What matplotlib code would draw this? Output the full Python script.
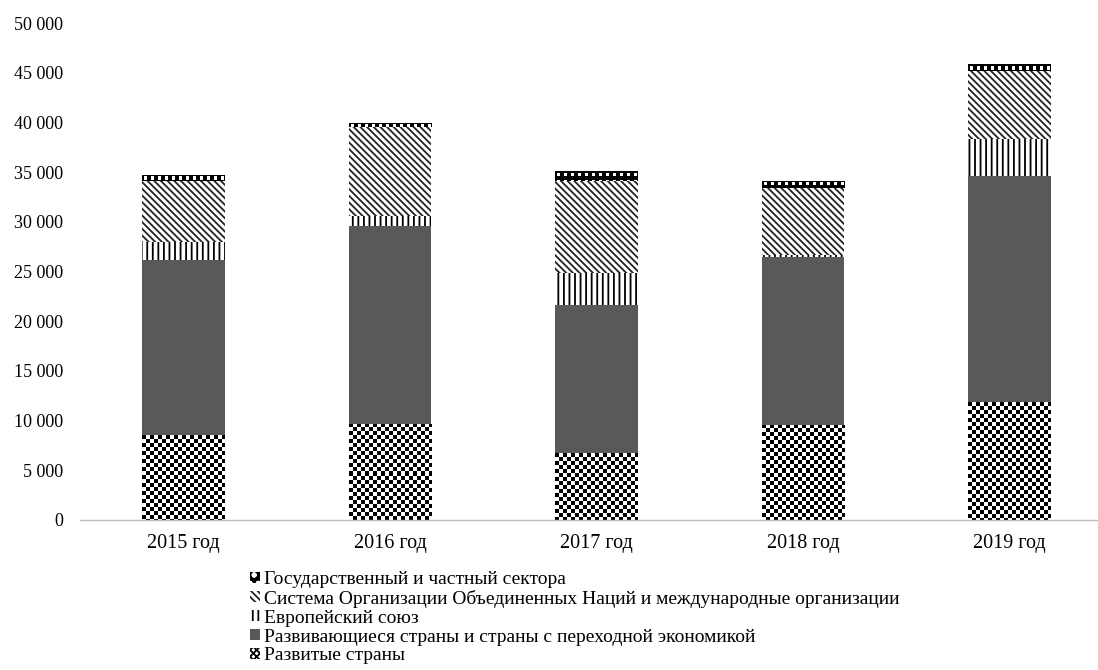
import numpy as np
import matplotlib
matplotlib.use("Agg")
import matplotlib.pyplot as plt

years = ["2015 год", "2016 год", "2017 год", "2018 год", "2019 год"]
developed = [8550, 9660, 6740, 9560, 11870]
developing = [17610, 19870, 14890, 16870, 22770]
eu = [1810, 1050, 3250, 230, 3660]
un = [6130, 8920, 9250, 6710, 6900]
gov = [610, 470, 980, 760, 650]

labels = [
    "Развитые страны",
    "Развивающиеся страны и страны с переходной экономикой",
    "Европейский союз",
    "Система Организации Объединенных Наций и международные организации",
    "Государственный и частный сектора",
]
yticks = [0, 5000, 10000, 15000, 20000, 25000, 30000, 35000, 40000, 45000, 50000]

plt.rcParams['font.family'] = ['Liberation Serif', 'DejaVu Serif']
plt.rcParams['hatch.linewidth'] = 1.3

W, H = 1098, 670
fig = plt.figure(figsize=(W / 100, H / 100), dpi=100)
ax = fig.add_axes([80 / W, 150 / H, 1033 / W, 497 / H])

x = np.arange(len(years))
bw = 0.40
d = np.array(developed)
dv = np.array(developing)
e = np.array(eu)
u = np.array(un)
g = np.array(gov)

b1 = ax.bar(x, d, bw, facecolor='white', edgecolor='black', linewidth=0, hatch='xxxxx', label=labels[0])
b2 = ax.bar(x, dv, bw, bottom=d, color='#595959', linewidth=0, label=labels[1])
b3 = ax.bar(x, e, bw, bottom=d + dv, facecolor='white', edgecolor='black', linewidth=0, hatch='|||', label=labels[2])
b4 = ax.bar(x, u, bw, bottom=d + dv + e, facecolor='white', edgecolor='#222222', linewidth=0, hatch='\\\\\\\\\\', label=labels[3])
b5 = ax.bar(x, g, bw, bottom=d + dv + e + u, facecolor='black', edgecolor='white', linewidth=0, hatch='oo', label=labels[4])

ax.set_xlim(-0.5, len(years) - 0.5)
ax.set_ylim(0, 50000)


def texture(bar, kind):
    bb = bar.get_window_extent()
    ny = max(1, int(round(bb.height)))
    nx = max(1, int(round(bb.width)))
    rr, cc = np.mgrid[0:ny, 0:nx]
    if kind == 'checker':
        img = (((rr // 4) + (cc // 4)) % 2).astype(float)
    else:  # black band with white dots
        img = np.zeros((ny, nx))
        mask = ((cc % 7) >= 2) & ((cc % 7) <= 4) & ((rr % 7) >= 2) & ((rr % 7) <= 4)
        img[mask] = 1.0
    im = ax.imshow(img, extent=(bar.get_x(), bar.get_x() + bar.get_width(),
                                bar.get_y(), bar.get_y() + bar.get_height()),
                   cmap='gray', interpolation='nearest', aspect='auto', zorder=2,
                   vmin=0, vmax=1)
    im.set_clip_path(bar)


for bar in b1:
    texture(bar, 'checker')
for bar in b5:
    texture(bar, 'dots')

ax.set_xlim(-0.5, len(years) - 0.5)
ax.set_ylim(0, 50000)

ax.set_yticks(yticks)
ax.set_yticklabels([f"{v:,}".replace(",", " ") for v in yticks], fontsize=13)
ax.set_xticks(x)
ax.set_xticklabels(years, fontsize=14.5)
ax.tick_params(axis='x', length=0, pad=10)
ax.tick_params(axis='y', length=0, pad=12)
for s in ['top', 'right', 'left']:
    ax.spines[s].set_visible(False)
ax.spines['bottom'].set_color('#bfbfbf')
ax.spines['bottom'].set_linewidth(1)

handles = [b5, b4, b3, b2, b1]
leg = fig.legend(handles, [labels[4], labels[3], labels[2], labels[1], labels[0]],
                 loc='upper left', bbox_to_anchor=(250 / W, 1 - 571 / H),
                 frameon=False, fontsize=14.0, handlelength=0.5, handleheight=0.5,
                 handletextpad=0.2, labelspacing=0.095, borderaxespad=0, borderpad=0)

fig.savefig("out.png", dpi=100)
